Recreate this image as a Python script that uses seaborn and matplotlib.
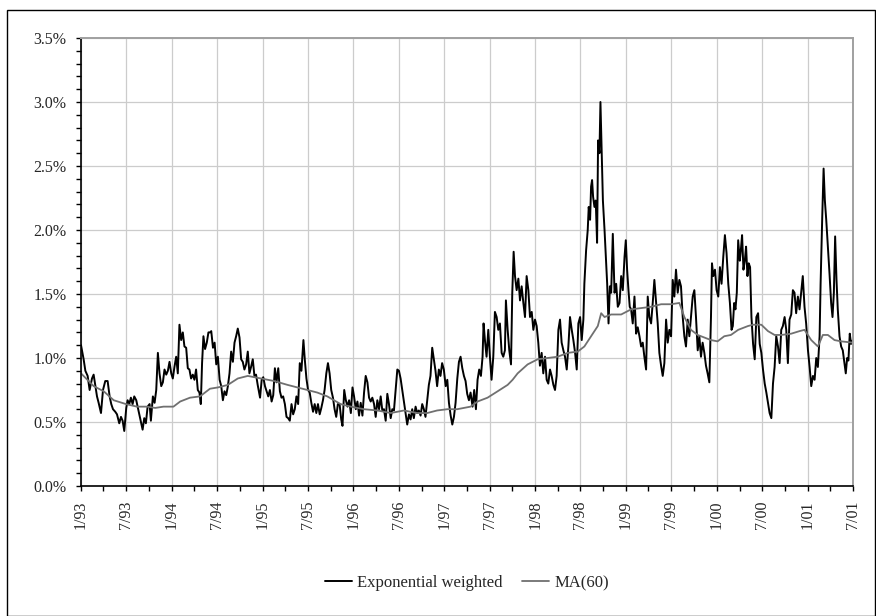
import matplotlib
matplotlib.use("Agg")
import matplotlib.pyplot as plt
import seaborn as sns
import pandas as pd
from matplotlib.ticker import MultipleLocator, FuncFormatter
from matplotlib.patches import Rectangle

# ---------------- data (decimal years, volatility in %) ----------------
ew_years_1 = [1993.000,1993.029,1993.048,1993.073,1993.095,1993.121,1993.139,1993.158,1993.176,1993.194,
              1993.220,1993.242,1993.267,1993.293,1993.315,1993.333,1993.352,1993.377,1993.396,1993.421,
              1993.440,1993.458,1993.476,1993.498,1993.513,1993.531,1993.549,1993.568,1993.586,1993.608,
              1993.626,1993.652,1993.678,1993.696,1993.714,1993.733,1993.755,1993.769,1993.791,1993.810,
              1993.828,1993.846,1993.864,1993.883,1993.901,1993.919,1993.938,1993.956,1993.974,1993.993,
              1994.011,1994.029,1994.048,1994.066,1994.084,1994.103,1994.121,1994.139,1994.158,1994.176,
              1994.194,1994.212,1994.231,1994.249,1994.267,1994.286,1994.304,1994.319,1994.333,1994.348,
              1994.366,1994.385,1994.403,1994.421]
ew_vals_1 = [1.10,0.99,0.90,0.86,0.75,0.84,0.87,0.78,0.70,0.65,
             0.57,0.75,0.82,0.82,0.70,0.64,0.60,0.58,0.56,0.49,
             0.54,0.51,0.43,0.61,0.67,0.64,0.69,0.64,0.70,0.67,
             0.61,0.52,0.44,0.53,0.49,0.62,0.64,0.51,0.70,0.65,
             0.75,1.04,0.88,0.78,0.81,0.91,0.87,0.90,0.97,0.88,
             0.84,0.93,1.01,0.88,1.26,1.14,1.20,1.09,1.08,0.92,
             0.91,0.84,0.87,0.83,0.91,0.75,0.73,0.64,0.96,1.17,
             1.07,1.12,1.20,1.20]

ew_years_2 = [1994.434,1994.453,1994.471,1994.489,1994.507,1994.526,1994.544,1994.562,1994.580,1994.599,
              1994.617,1994.635,1994.653,1994.672,1994.690,1994.708,1994.726,1994.745,1994.763,1994.781,
              1994.799,1994.818,1994.836,1994.854,1994.872,1994.891,1994.909,1994.927,1994.945,1994.971,
              1994.989,1995.007,1995.026,1995.044,1995.062,1995.080,1995.099,1995.117,1995.135,1995.153,
              1995.172,1995.190,1995.208,1995.226,1995.245,1995.263,1995.281,1995.299,1995.318,1995.336,
              1995.354,1995.372,1995.391,1995.409,1995.427,1995.449,1995.464,1995.482,1995.500,1995.518,
              1995.536,1995.555,1995.573,1995.591,1995.609,1995.628,1995.646,1995.664,1995.682,1995.701,
              1995.719,1995.737,1995.755,1995.774,1995.792,1995.810,1995.828,1995.847,1995.865]
ew_vals_2 = [1.21,1.08,1.12,0.95,1.01,0.83,0.78,0.67,0.74,0.71,
             0.78,0.88,1.05,0.97,1.12,1.17,1.23,1.16,0.99,0.97,
             0.91,0.95,1.05,0.88,0.93,0.99,0.86,0.87,0.79,0.69,
             0.83,0.85,0.78,0.74,0.70,0.75,0.66,0.71,0.92,0.81,
             0.92,0.74,0.69,0.70,0.64,0.54,0.53,0.51,0.64,0.56,
             0.60,0.70,0.64,0.96,0.90,1.14,0.99,0.84,0.75,0.73,
             0.65,0.58,0.64,0.57,0.64,0.56,0.61,0.67,0.75,0.88,
             0.96,0.88,0.75,0.69,0.60,0.54,0.64,0.64,0.52]

ew_years_3 = [1995.879,1995.898,1995.916,1995.934,1995.952,1995.971,1995.989,1996.007,1996.026,1996.044,
              1996.062,1996.080,1996.099,1996.117,1996.135,1996.154,1996.172,1996.190,1996.208,1996.227,
              1996.245,1996.263,1996.282,1996.300,1996.318,1996.336,1996.355,1996.373,1996.391,1996.410,
              1996.428,1996.446,1996.464,1996.483,1996.501,1996.519,1996.537,1996.556,1996.574,1996.592,
              1996.611,1996.629,1996.647,1996.665,1996.684,1996.702,1996.720,1996.739,1996.757,1996.775,
              1996.793,1996.812,1996.830,1996.848,1996.867,1996.885,1996.903,1996.921,1996.940,1996.958,
              1996.976,1996.995,1997.013,1997.031,1997.049,1997.068,1997.086,1997.104,1997.122,1997.141,
              1997.159,1997.177,1997.196,1997.214,1997.232,1997.250,1997.269,1997.287]
ew_vals_3 = [0.47,0.75,0.67,0.62,0.67,0.57,0.77,0.70,0.60,0.66,
             0.55,0.65,0.55,0.73,0.86,0.81,0.69,0.66,0.69,0.64,
             0.54,0.67,0.60,0.70,0.59,0.60,0.51,0.72,0.64,0.53,
             0.60,0.59,0.75,0.91,0.90,0.84,0.75,0.65,0.57,0.48,
             0.56,0.52,0.60,0.53,0.62,0.57,0.59,0.55,0.64,0.60,
             0.54,0.67,0.79,0.86,1.08,0.99,0.90,0.78,0.91,0.86,
             0.96,0.91,0.78,0.83,0.65,0.55,0.48,0.54,0.65,0.84,
             0.97,1.01,0.92,0.86,0.82,0.72,0.67,0.73]

ew_years_4 = [1997.309,1997.327,1997.346,1997.364,1997.382,1997.401,1997.419,1997.430,1997.445,1997.463,
              1997.482,1997.500,1997.518,1997.537,1997.555,1997.574,1997.592,1997.610,1997.629,1997.647,
              1997.665,1997.676,1997.695,1997.713,1997.732,1997.746,1997.761,1997.776,1997.794,1997.813,
              1997.831,1997.849,1997.868,1997.886,1997.904,1997.923,1997.941,1997.960,1997.978,1997.996,
              1998.015,1998.033,1998.051,1998.070,1998.088,1998.107,1998.125,1998.143,1998.162,1998.180,
              1998.199,1998.217,1998.235,1998.254,1998.272,1998.290,1998.309,1998.327,1998.346,1998.364,
              1998.382,1998.401,1998.419,1998.438,1998.456,1998.474,1998.493,1998.511,1998.529,1998.540,
              1998.559,1998.577,1998.588,1998.603,1998.614,1998.625,1998.636,1998.651,1998.665,1998.680,
              1998.691,1998.706,1998.717]
ew_vals_4 = [0.62,0.75,0.60,0.83,0.91,0.86,1.01,1.27,1.14,1.01,
             1.22,1.01,0.83,1.01,1.36,1.32,1.22,1.27,1.04,1.01,
             1.06,1.45,1.22,1.06,0.95,1.51,1.83,1.64,1.53,1.62,
             1.45,1.56,1.43,1.32,1.64,1.53,1.32,1.36,1.22,1.30,
             1.25,1.12,0.94,1.04,0.88,1.01,0.83,0.80,0.91,0.86,
             0.79,0.75,0.86,1.22,1.30,1.12,1.06,1.01,0.91,1.09,
             1.32,1.22,1.14,1.04,0.91,1.27,1.32,1.14,1.30,1.58,
             1.84,2.00,2.18,2.08,2.34,2.39,2.26,2.18,2.23,1.90,
             2.70,2.60,3.00]

ew_years_5 = [1998.733,1998.744,1998.762,1998.777,1998.791,1998.806,1998.821,1998.835,1998.853,1998.872,
              1998.890,1998.908,1998.927,1998.945,1998.963,1998.982,1998.996,1999.011,1999.026,1999.040,
              1999.055,1999.073,1999.092,1999.110,1999.128,1999.147,1999.165,1999.183,1999.201,1999.220,
              1999.238,1999.256,1999.275,1999.293,1999.311,1999.330,1999.348,1999.366,1999.385,1999.403,
              1999.421,1999.440,1999.458,1999.476,1999.495,1999.513,1999.531,1999.549,1999.568,1999.586,
              1999.604,1999.623,1999.641,1999.659,1999.678,1999.696,1999.714,1999.733,1999.751,1999.769,
              1999.788,1999.806,1999.824,1999.842,1999.861,1999.879,1999.897,1999.916,1999.934,1999.945,
              1999.960,1999.978,1999.996,2000.015,2000.033,2000.051,2000.070,2000.088,2000.106,2000.125,
              2000.143,2000.161]
ew_vals_5 = [2.55,2.23,2.00,1.79,1.58,1.27,1.56,1.51,1.97,1.51,
             1.58,1.40,1.43,1.64,1.53,1.79,1.92,1.69,1.53,1.40,
             1.38,1.27,1.48,1.19,1.24,1.17,1.09,1.12,1.01,0.91,
             1.48,1.32,1.27,1.43,1.61,1.43,1.27,1.04,0.94,0.86,
             0.96,1.30,1.12,1.22,1.17,1.61,1.48,1.69,1.51,1.61,
             1.56,1.32,1.17,1.09,1.30,1.17,1.32,1.48,1.53,1.32,
             1.06,1.17,1.01,1.12,1.04,0.94,0.88,0.81,1.32,1.74,
             1.64,1.69,1.53,1.48,1.71,1.58,1.79,1.96,1.82,1.58,
             1.43,1.22]

ew_years_6 = [2000.175,2000.190,2000.204,2000.219,2000.234,2000.252,2000.263,2000.277,2000.292,2000.307,
              2000.321,2000.336,2000.350,2000.365,2000.380,2000.398,2000.416,2000.434,2000.453,2000.471,
              2000.489,2000.507,2000.526,2000.544,2000.562,2000.580,2000.599,2000.617,2000.635,2000.653,
              2000.672,2000.690,2000.708,2000.726,2000.745,2000.763,2000.781,2000.799,2000.818,2000.836,
              2000.854,2000.872,2000.891,2000.909,2000.927,2000.945,2000.964,2000.982,2001.000,2001.018,
              2001.036,2001.055,2001.073,2001.091,2001.109,2001.128,2001.139,2001.157,2001.172,2001.186,
              2001.201,2001.219,2001.237,2001.255,2001.270,2001.285,2001.299,2001.314,2001.328,2001.347,
              2001.365,2001.383,2001.401,2001.416,2001.431,2001.445,2001.460,2001.474,2001.493]
ew_vals_6 = [1.25,1.43,1.38,1.51,1.92,1.76,1.84,1.96,1.69,1.76,
             1.87,1.64,1.74,1.71,1.32,1.11,0.99,1.32,1.35,1.11,
             1.04,0.91,0.80,0.73,0.65,0.57,0.53,0.80,0.93,1.17,
             1.09,0.96,1.22,1.25,1.32,1.22,0.96,1.30,1.34,1.53,
             1.51,1.35,1.48,1.38,1.51,1.64,1.40,1.27,1.06,0.93,
             0.78,0.86,0.83,1.00,0.93,1.17,1.58,2.10,2.48,2.23,
             2.08,1.87,1.66,1.43,1.32,1.51,1.95,1.61,1.38,1.17,
             1.09,1.06,0.96,0.88,1.00,0.98,1.19,1.11,1.14]

ma_years = [1993.000,1993.140,1993.250,1993.360,1993.495,1993.615,1993.725,1993.817,1993.908,1994.018,
            1994.092,1994.200,1994.310,1994.420,1994.507,1994.617,1994.726,1994.836,1994.982,1995.128,
            1995.274,1995.383,1995.493,1995.602,1995.712,1995.858,1995.971,1996.117,1996.263,1996.410,
            1996.556,1996.702,1996.812,1996.921,1997.031,1997.141,1997.287,1997.364,1997.474,1997.585,
            1997.695,1997.750,1997.805,1997.915,1998.026,1998.136,1998.246,1998.357,1998.467,1998.540,
            1998.614,1998.688,1998.725,1998.762,1998.835,1998.945,1999.055,1999.165,1999.275,1999.385,
            1999.495,1999.586,1999.641,1999.714,1999.788,1999.861,1999.934,2000.007,2000.081,2000.154,
            2000.234,2000.343,2000.398,2000.489,2000.562,2000.635,2000.708,2000.818,2000.909,2000.964,
            2001.036,2001.109,2001.164,2001.219,2001.292,2001.365,2001.493]
ma_vals = [0.88,0.78,0.74,0.67,0.64,0.62,0.62,0.61,0.62,0.62,
           0.66,0.69,0.70,0.76,0.77,0.79,0.84,0.86,0.84,0.82,
           0.79,0.77,0.75,0.73,0.70,0.64,0.62,0.60,0.59,0.57,
           0.59,0.57,0.57,0.59,0.60,0.60,0.62,0.66,0.69,0.74,
           0.79,0.83,0.88,0.95,0.99,1.00,1.01,1.04,1.05,1.09,
           1.17,1.25,1.35,1.32,1.34,1.34,1.38,1.39,1.40,1.42,
           1.42,1.43,1.32,1.22,1.18,1.16,1.14,1.13,1.17,1.18,
           1.22,1.25,1.26,1.26,1.21,1.18,1.18,1.19,1.21,1.22,
           1.14,1.09,1.18,1.18,1.14,1.13,1.12]

x_tick_labels = ["1/93", "7/93", "1/94", "7/94", "1/95", "7/95", "1/96", "7/96", "1/97",
                 "7/97", "1/98", "7/98", "1/99", "7/99", "1/00", "7/00", "1/01", "7/01"]
series_names = ["Exponential weighted", "MA(60)"]

ew_years = ew_years_1 + ew_years_2 + ew_years_3 + ew_years_4 + ew_years_5 + ew_years_6
ew_vals = ew_vals_1 + ew_vals_2 + ew_vals_3 + ew_vals_4 + ew_vals_5 + ew_vals_6
assert len(ew_years) == len(ew_vals), (len(ew_years), len(ew_vals))
assert len(ma_years) == len(ma_vals), (len(ma_years), len(ma_vals))


def to_date(y):
    yr = int(y)
    return pd.Timestamp(yr, 1, 1) + pd.Timedelta(days=(y - yr) * 365.25)


df_ew = pd.DataFrame({"date": [to_date(v) for v in ew_years], "vol": ew_vals})
df_ma = pd.DataFrame({"date": [to_date(v) for v in ma_years], "vol": ma_vals})

# ---------------- style ----------------
sns.set_style("white")
plt.rcParams["font.family"] = ["Liberation Serif", "DejaVu Serif"]

fig = plt.figure(figsize=(8.76, 6.16), dpi=100)
W, H = 876, 616
ax = fig.add_axes([81 / W, 1 - 486 / H, 772 / W, 448 / H])

sns.lineplot(data=df_ew, x="date", y="vol", ax=ax, color="black", lw=1.4,
             estimator=None, sort=False, label=series_names[0])
sns.lineplot(data=df_ma, x="date", y="vol", ax=ax, color="#707070", lw=1.3,
             estimator=None, sort=False, label=series_names[1])

ax.set_xlim(pd.Timestamp("1993-01-01"), pd.Timestamp("2001-07-01"))
ax.set_ylim(0, 3.5)

major_dates = pd.date_range("1993-01-01", "2001-07-01", freq="6MS")
minor_dates = pd.date_range("1993-04-01", "2001-04-01", freq="6MS")
ax.set_xticks(major_dates)
ax.set_xticklabels(x_tick_labels, rotation=90)
ax.set_xticks(minor_dates, minor=True)

ax.yaxis.set_major_locator(MultipleLocator(0.5))
ax.yaxis.set_minor_locator(MultipleLocator(0.1))
ax.yaxis.set_major_formatter(FuncFormatter(lambda v, p: f"{v:.1f}%"))

ax.tick_params(axis="both", which="both", direction="out", color="black",
               width=1, length=3.5, labelsize=11.5, pad=7, left=True, bottom=True)
ax.set_xlabel("")
ax.set_ylabel("")

ax.grid(True, which="major", color="#cccccc", lw=0.9)
ax.set_axisbelow(True)
for s in ["left", "bottom"]:
    ax.spines[s].set_color("black")
    ax.spines[s].set_linewidth(1.2)
for s in ["top", "right"]:
    ax.spines[s].set_color("#a0a0a0")
    ax.spines[s].set_linewidth(1.4)

handles, labels = ax.get_legend_handles_labels()
ax.legend_.remove()
fig.legend(handles, labels, loc="center", bbox_to_anchor=(467 / W, 1 - 583 / H),
           ncol=2, frameon=False, fontsize=12, handlelength=1.6,
           handletextpad=0.3, columnspacing=1.2)

fig.patches.append(Rectangle((7 / W, 0.5 / H), (875 - 7) / W, (615 - 9) / H,
                             transform=fig.transFigure, fill=False,
                             ec="black", lw=1.0))

fig.savefig("out.png", dpi=100)
